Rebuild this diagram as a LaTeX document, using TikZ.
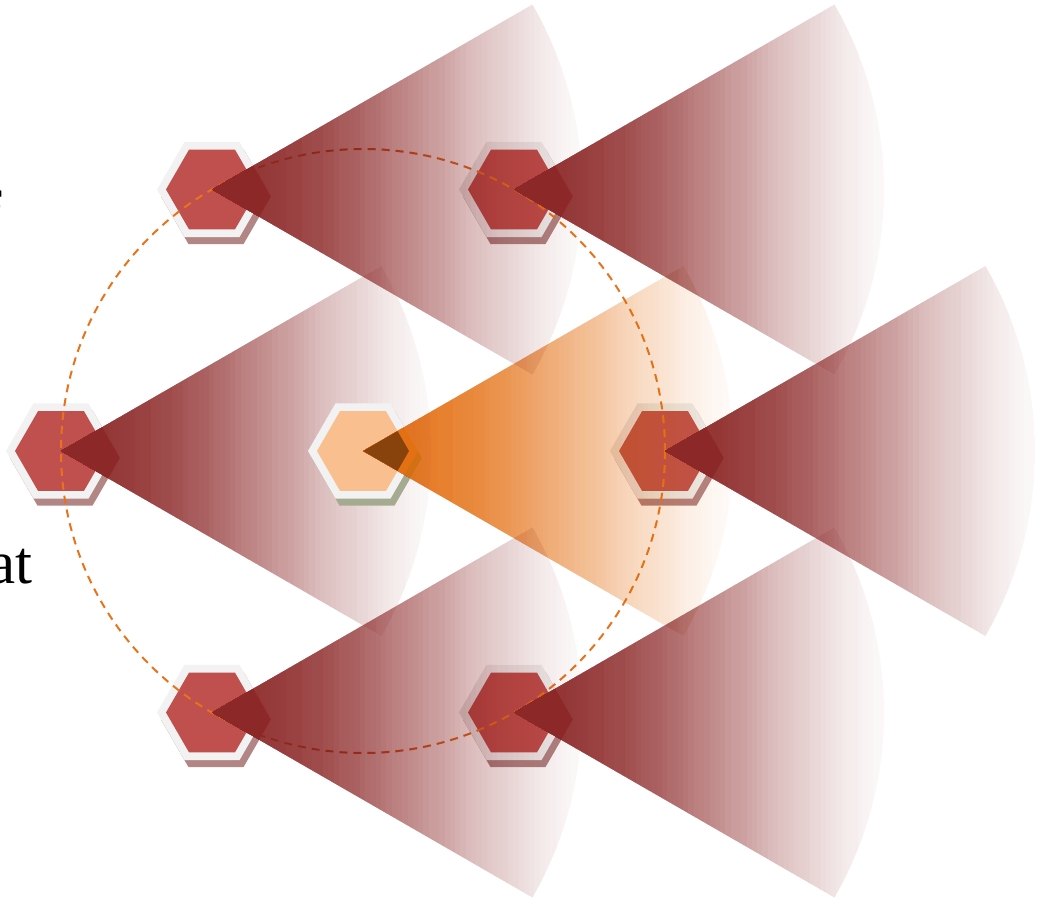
\documentclass[tikz,border=0pt]{standalone}
\usepackage{fontspec}
\setmainfont{Liberation Serif}
\definecolor{hexred}{HTML}{C0504D}
\definecolor{hexorange}{HTML}{F9BF8F}
\definecolor{hexborder}{HTML}{F2F2F2}
\definecolor{shadowred}{HTML}{B38686}
\definecolor{shadoworange}{HTML}{A5AB90}
\definecolor{wedgered}{HTML}{8C2828}
\definecolor{wedgeorange}{HTML}{E47014}
\definecolor{circleorange}{HTML}{E8731A}
% fading wedge drawn as nested slabs of tuned opacity (eased fall-off)
% #1 tip coordinate, #2 colour
\newcommand{\fadewedge}[2]{%
  \begin{scope}
    \clip (#1) -- +(-30:370) arc[start angle=-30, end angle=30, radius=370] -- cycle;
    \foreach \k in {1,...,70}{
      \pgfmathsetmacro{\Ak}{0.035+0.935*(max(0.5+0.5*cos(180*(\k-0.5)/70),0.0001))^0.75}
      \pgfmathsetmacro{\Akk}{(\k<70)*(0.035+0.935*(max(0.5+0.5*cos(180*(\k+0.5)/70),0.0001))^0.75)}
      \pgfmathsetmacro{\lay}{1-(1-\Ak)/(1-\Akk)}
      \pgfmathsetmacro{\xr}{370/70*\k}
      \fill[#2, fill opacity=\lay] ([shift={(-5,-400)}]#1) rectangle ([shift={(\xr,400)}]#1);
    }
  \end{scope}%
}
\newcommand{\hexshape}[5]{% centre, outer R, inner R, shadow colour, fill colour
  \fill[#4] ([shift={(4,7)}]#1) +(0:#2) -- +(60:#2) -- +(120:#2) -- +(180:#2) -- +(240:#2) -- +(300:#2) -- cycle;
  \fill[hexborder] (#1) +(0:#2) -- +(60:#2) -- +(120:#2) -- +(180:#2) -- +(240:#2) -- +(300:#2) -- cycle;
  \fill[#5] (#1) +(0:#3) -- +(60:#3) -- +(120:#3) -- +(180:#3) -- +(240:#3) -- +(300:#3) -- cycle;
}
\begin{document}
\begin{tikzpicture}[x=1pt,y=-1pt,
  bigtext/.style={inner sep=0pt, font=\fontsize{61}{73}\selectfont},
  ring/.style={circleorange, line width=2pt, dash pattern=on 8pt off 6pt}]
\useasboundingbox (0,0) rectangle (1041,908);
\clip (0,0) rectangle (1041,908);

% hex centres
\coordinate (h0) at (363,451);
\coordinate (h1) at (665,451);
\coordinate (h2) at (514,189.5);
\coordinate (h3) at (212,189.5);
\coordinate (h4) at (61,451);
\coordinate (h5) at (212,712.5);
\coordinate (h6) at (514,712.5);

% text fragments
\node[bigtext, anchor=base west] (tf) at (-19,233) {f};
\node[bigtext, anchor=base east] (tat) at (33,583) {at};

% red hexagons
\foreach \h in {h1,h2,h3,h4,h5,h6}{
  \hexshape{\h}{55}{46}{shadowred}{hexred}
}

% dashed circle
\draw[ring] (h0) circle[radius=302];

% left red wedges
\fadewedge{h3}{wedgered}
\fadewedge{h4}{wedgered}
\fadewedge{h5}{wedgered}

% orange hexagon and its wedge
\hexshape{h0}{55}{46}{shadoworange}{hexorange}
\fadewedge{h0}{wedgeorange}
\begin{scope}
  \clip (h0) +(0:46) -- +(60:46) -- +(120:46) -- +(180:46) -- +(240:46) -- +(300:46) -- cycle;
  \fill[black, opacity=0.4] (h0) -- +(-30:370) arc[start angle=-30, end angle=30, radius=370] -- cycle;
\end{scope}

% right red wedges
\fadewedge{h1}{wedgered}
\fadewedge{h2}{wedgered}
\fadewedge{h6}{wedgered}
\end{tikzpicture}
\end{document}
